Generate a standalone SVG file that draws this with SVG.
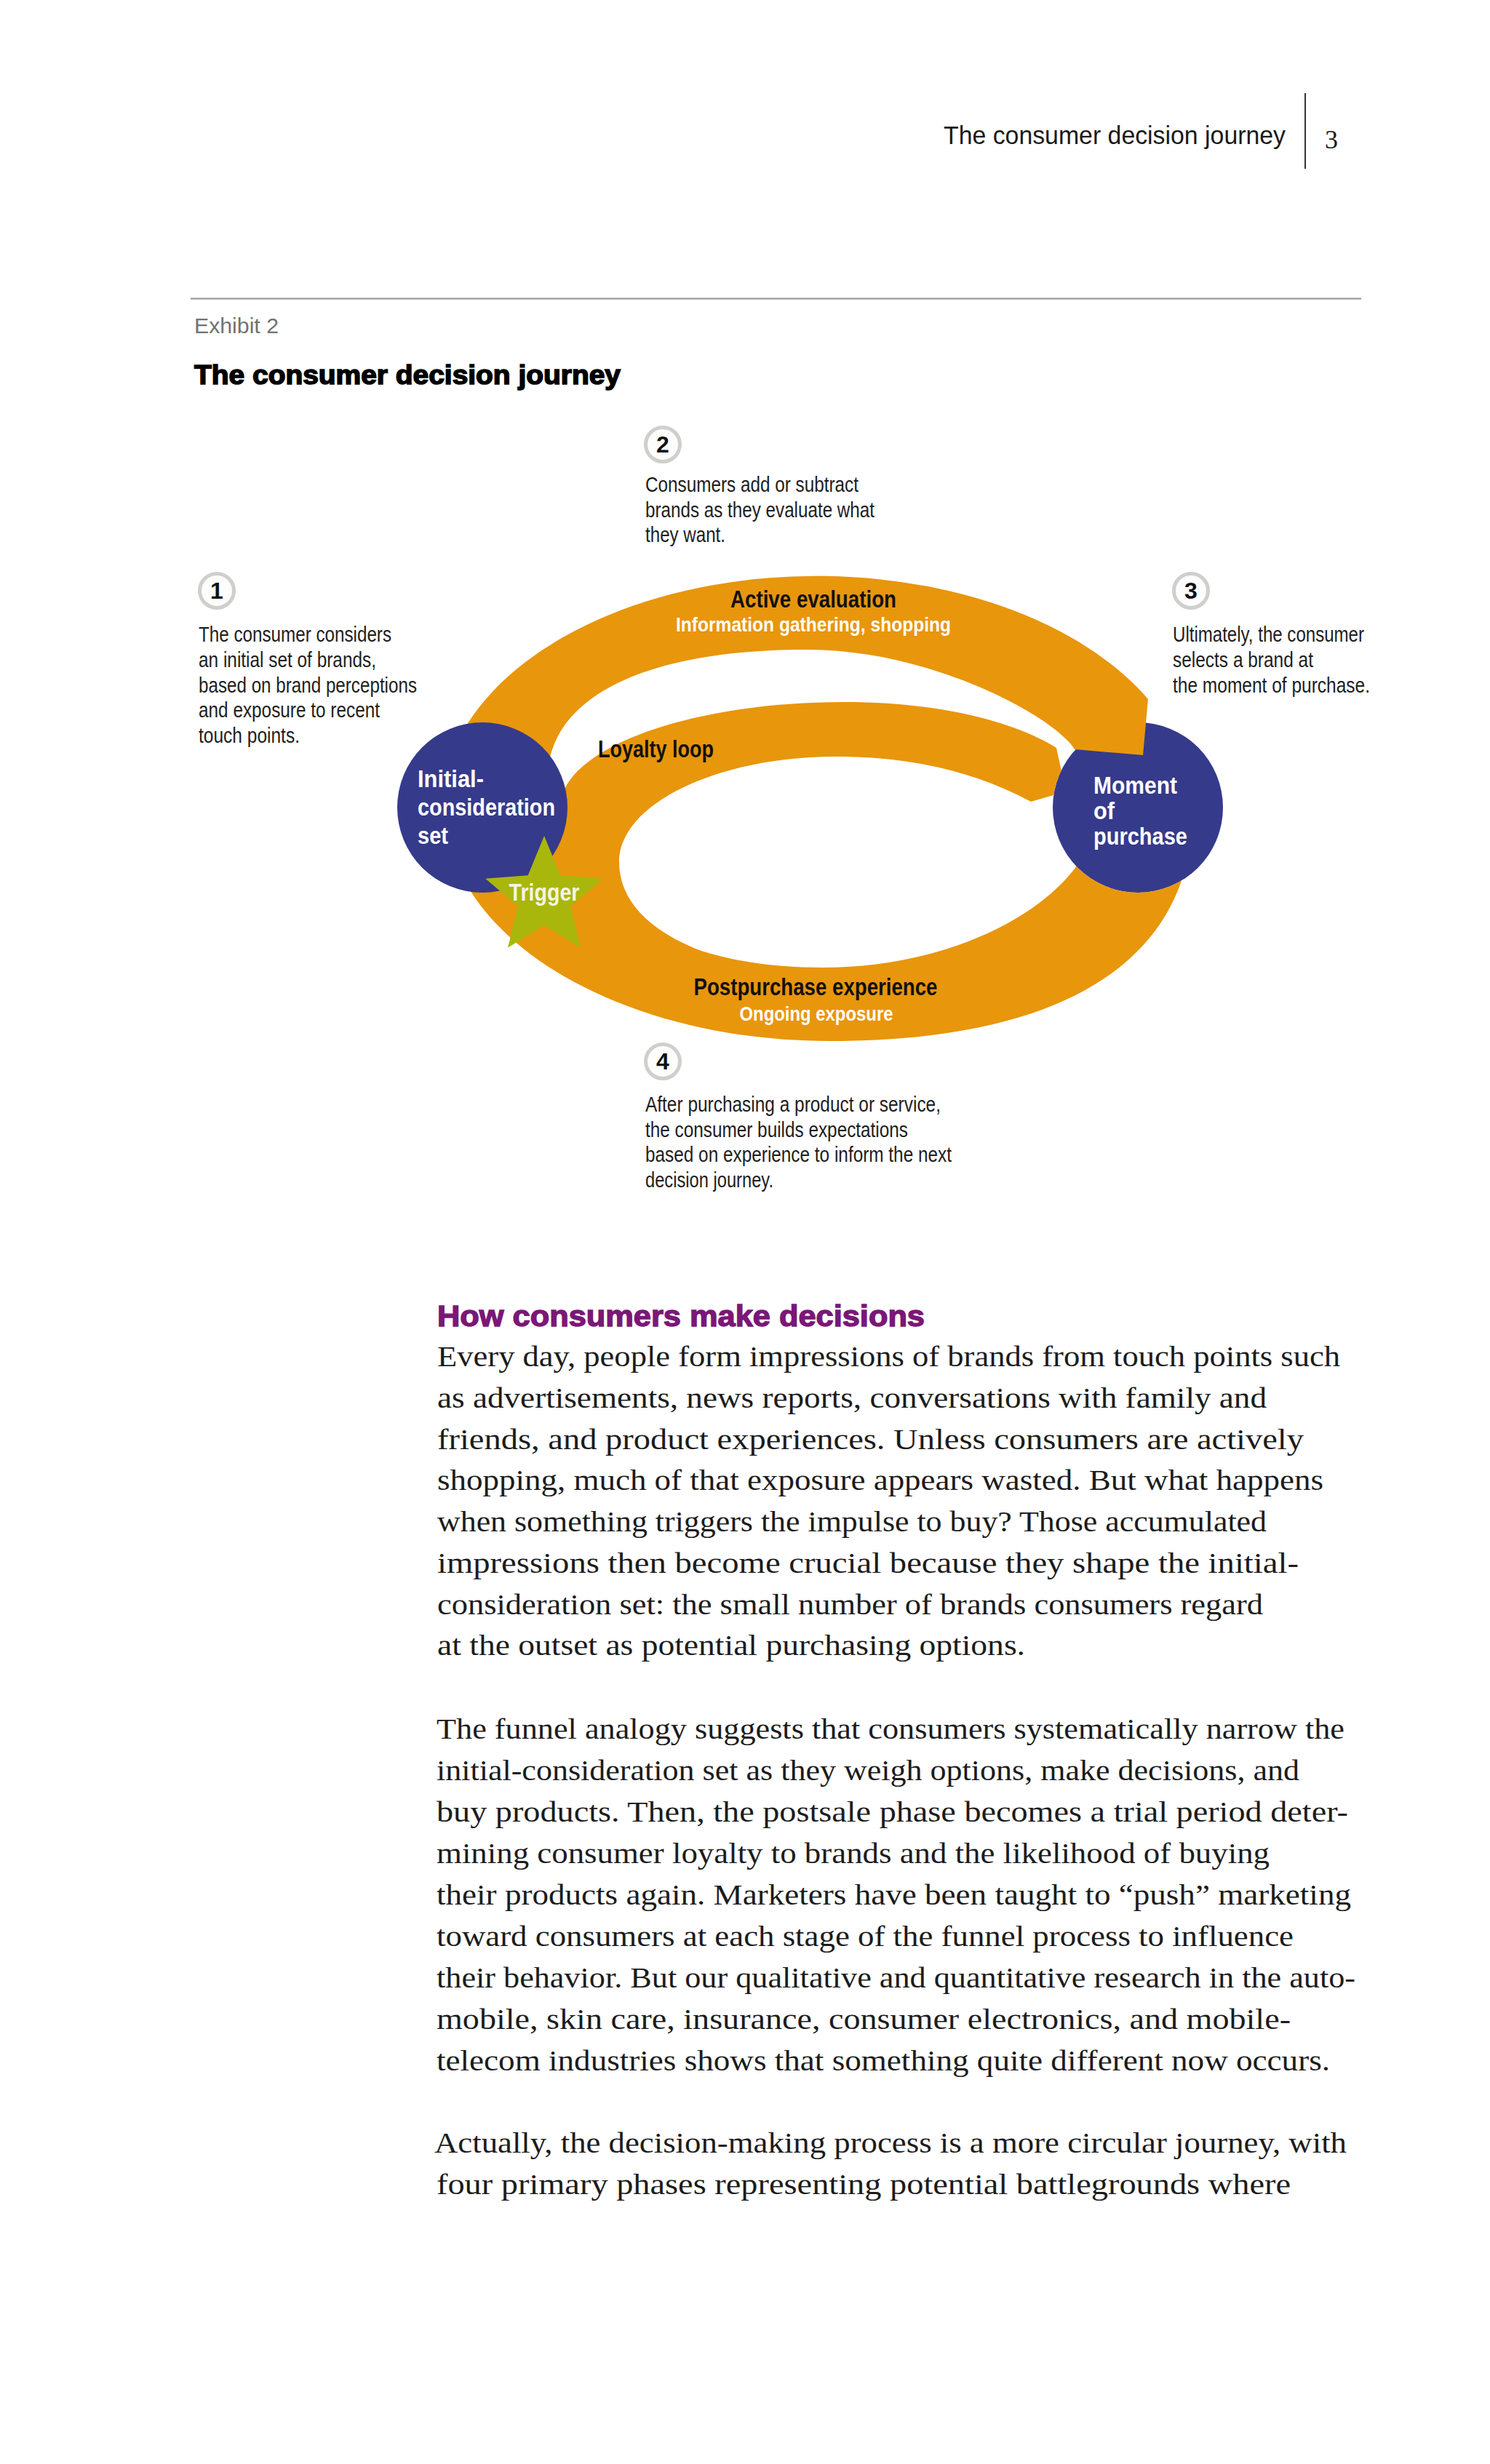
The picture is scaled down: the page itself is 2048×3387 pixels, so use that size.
<svg xmlns="http://www.w3.org/2000/svg" width="2048" height="3387" viewBox="0 0 2048 3387">
<defs>
<style>
.hdr{font-family:"Liberation Sans",Arial,sans-serif;fill:#1a1a1a}
.ann{font-family:"Liberation Sans Narrow","Liberation Sans",Arial,sans-serif;font-size:29px;fill:#1e1e1e}
.num{font-family:"Liberation Sans Narrow","Liberation Sans",Arial,sans-serif;font-size:32px;font-weight:bold;fill:#111;text-anchor:middle}
.ring{fill:#fdfdfd;stroke:#cfcfcb;stroke-width:5}
.lbl{font-family:"Liberation Sans Narrow","Liberation Sans",Arial,sans-serif;font-weight:bold;font-size:34px;fill:#111}
.sub{font-family:"Liberation Sans Narrow","Liberation Sans",Arial,sans-serif;font-weight:bold;font-size:28px;fill:#fff}
.wht{fill:#fff}
.band{fill:#e8960c}
.node{fill:#363a8a}
.body{font-family:"Liberation Serif","Times New Roman",serif;font-size:40px;fill:#1c1c1c}
</style>
<clipPath id="outsideMoP">
<path clip-rule="evenodd" d="M0,0H2048V3387H0Z M1447,1110 a117,117 0 1,0 234,0 a117,117 0 1,0 -234,0Z"/>
</clipPath>
</defs>
<rect width="2048" height="3387" fill="#ffffff"/>

<g id="page-header">
<text class="hdr" x="1297" y="198" font-size="35" textLength="470" lengthAdjust="spacingAndGlyphs">The consumer decision journey</text>
<line x1="1794" y1="128" x2="1794" y2="232" stroke="#333" stroke-width="2"/>
<text x="1830" y="204" font-family="'Liberation Serif','Times New Roman',serif" font-size="36" fill="#1a1a1a" text-anchor="middle">3</text>
<line x1="262" y1="410.5" x2="1871" y2="410.5" stroke="#a3a3a3" stroke-width="2.5"/>
<text class="hdr" x="267" y="458" font-size="29" style="fill:#727272" textLength="116" lengthAdjust="spacingAndGlyphs">Exhibit 2</text>
<text class="hdr" x="267" y="528" font-size="37" font-weight="bold" style="fill:#000" stroke="#000" stroke-width="1.6" textLength="586" lengthAdjust="spacingAndGlyphs">The consumer decision journey</text>
</g>

<g id="node-moment-of-purchase">
<circle class="node" cx="1564" cy="1110" r="117"/>
</g>

<g id="connectors">
<path id="postpurchase-loyalty-band" class="band" clip-path="url(#outsideMoP)" d="M1640,1110 C1640,1319 1465,1431 1140,1431 C848,1431 612,1287 612,1110 L770,1110 C770,1030 945,965 1160,965 C1300,965 1400,995 1452,1028 L1465,1088 L1417,1102 C1340,1060 1250,1040 1150,1040 C985,1040 851,1105 851,1185 C851,1245 905,1285 964,1307 C1020,1325 1080,1330 1130,1330 C1300,1330 1430,1260 1480,1190 L1540,1130 Z"/>
<path id="active-evaluation-band" class="band" d="M620,1040 A516,320 0 0 1 1578,961 L1571,1038 L1477,1030 C1450,985 1280,893 1110,893 C900,893 775,950 755,1045 L700,1070 Z"/>
<text class="lbl" x="1118" y="835" text-anchor="middle" textLength="228" lengthAdjust="spacingAndGlyphs">Active evaluation</text>
<text class="sub" x="1118" y="868" text-anchor="middle" textLength="378" lengthAdjust="spacingAndGlyphs">Information gathering, shopping</text>
<text class="lbl" x="822" y="1041" textLength="159" lengthAdjust="spacingAndGlyphs">Loyalty loop</text>
<text class="lbl" x="1121" y="1368" text-anchor="middle" textLength="335" lengthAdjust="spacingAndGlyphs">Postpurchase experience</text>
<text class="sub" x="1122" y="1403" text-anchor="middle" textLength="211" lengthAdjust="spacingAndGlyphs">Ongoing exposure</text>
</g>

<g id="node-initial-consideration-set">
<circle class="node" cx="663" cy="1110" r="117"/>
<text class="lbl wht" x="574" y="1082" style="fill:#fff" textLength="91" lengthAdjust="spacingAndGlyphs">Initial-</text>
<text class="lbl wht" x="574" y="1121" style="fill:#fff" textLength="189" lengthAdjust="spacingAndGlyphs">consideration</text>
<text class="lbl wht" x="574" y="1160" style="fill:#fff" textLength="42" lengthAdjust="spacingAndGlyphs">set</text>
</g>

<g id="node-moment-label">
<text class="lbl" x="1503" y="1091" style="fill:#fff" textLength="115" lengthAdjust="spacingAndGlyphs">Moment</text>
<text class="lbl" x="1503" y="1126" style="fill:#fff" textLength="29" lengthAdjust="spacingAndGlyphs">of</text>
<text class="lbl" x="1503" y="1161" style="fill:#fff" textLength="129" lengthAdjust="spacingAndGlyphs">purchase</text>
</g>

<g id="node-trigger">
<polygon fill="#a9b70d" points="748,1149 770.3,1203.3 828.8,1207.7 784.1,1245.7 798,1302.8 748,1272 698,1302.8 711.9,1245.7 667.2,1207.7 725.7,1203.3"/>
<text class="lbl" x="748" y="1238" text-anchor="middle" style="fill:#f4f4e4" textLength="97" lengthAdjust="spacingAndGlyphs">Trigger</text>
</g>

<g id="note-1">
<circle class="ring" cx="298" cy="812" r="23.5"/>
<text class="num" x="298" y="823">1</text>
<text class="ann" x="273" y="882" textLength="265" lengthAdjust="spacingAndGlyphs">The consumer considers</text>
<text class="ann" x="273" y="917" textLength="244" lengthAdjust="spacingAndGlyphs">an initial set of brands,</text>
<text class="ann" x="273" y="952" textLength="300" lengthAdjust="spacingAndGlyphs">based on brand perceptions</text>
<text class="ann" x="273" y="986" textLength="249" lengthAdjust="spacingAndGlyphs">and exposure to recent</text>
<text class="ann" x="273" y="1021" textLength="139" lengthAdjust="spacingAndGlyphs">touch points.</text>
</g>

<g id="note-2">
<circle class="ring" cx="911" cy="611" r="23.5"/>
<text class="num" x="911" y="622">2</text>
<text class="ann" x="887" y="676" textLength="293" lengthAdjust="spacingAndGlyphs">Consumers add or subtract</text>
<text class="ann" x="887" y="711" textLength="315" lengthAdjust="spacingAndGlyphs">brands as they evaluate what</text>
<text class="ann" x="887" y="745" textLength="110" lengthAdjust="spacingAndGlyphs">they want.</text>
</g>

<g id="note-3">
<circle class="ring" cx="1637" cy="812" r="23.5"/>
<text class="num" x="1637" y="823">3</text>
<text class="ann" x="1612" y="882" textLength="263" lengthAdjust="spacingAndGlyphs">Ultimately, the consumer</text>
<text class="ann" x="1612" y="917" textLength="193" lengthAdjust="spacingAndGlyphs">selects a brand at</text>
<text class="ann" x="1612" y="952" textLength="271" lengthAdjust="spacingAndGlyphs">the moment of purchase.</text>
</g>

<g id="note-4">
<circle class="ring" cx="911" cy="1459" r="23.5"/>
<text class="num" x="911" y="1470">4</text>
<text class="ann" x="887" y="1528" textLength="406" lengthAdjust="spacingAndGlyphs">After purchasing a product or service,</text>
<text class="ann" x="887" y="1563" textLength="361" lengthAdjust="spacingAndGlyphs">the consumer builds expectations</text>
<text class="ann" x="887" y="1597" textLength="421" lengthAdjust="spacingAndGlyphs">based on experience to inform the next</text>
<text class="ann" x="887" y="1632" textLength="176" lengthAdjust="spacingAndGlyphs">decision journey.</text>
</g>

<g id="body-text">
<text x="601" y="1823" font-family="'Liberation Sans',Arial,sans-serif" font-weight="bold" font-size="40" fill="#7b1776" stroke="#7b1776" stroke-width="1.4" textLength="670" lengthAdjust="spacingAndGlyphs">How consumers make decisions</text>
<text class="body" x="601" y="1878" textLength="1241" lengthAdjust="spacingAndGlyphs">Every day, people form impressions of brands from touch points such</text>
<text class="body" x="601" y="1935" textLength="1140" lengthAdjust="spacingAndGlyphs">as advertisements, news reports, conversations with family and</text>
<text class="body" x="601" y="1992" textLength="1191" lengthAdjust="spacingAndGlyphs">friends, and product experiences. Unless consumers are actively</text>
<text class="body" x="601" y="2048" textLength="1218" lengthAdjust="spacingAndGlyphs">shopping, much of that exposure appears wasted. But what happens</text>
<text class="body" x="601" y="2105" textLength="1140" lengthAdjust="spacingAndGlyphs">when something triggers the impulse to buy? Those accumulated</text>
<text class="body" x="601" y="2162" textLength="1184" lengthAdjust="spacingAndGlyphs">impressions then become crucial because they shape the initial-</text>
<text class="body" x="601" y="2219" textLength="1135" lengthAdjust="spacingAndGlyphs">consideration set: the small number of brands consumers regard</text>
<text class="body" x="601" y="2275" textLength="808" lengthAdjust="spacingAndGlyphs">at the outset as potential purchasing options.</text>

<text class="body" x="600" y="2390" textLength="1248" lengthAdjust="spacingAndGlyphs">The funnel analogy suggests that consumers systematically narrow the</text>
<text class="body" x="600" y="2447" textLength="1186" lengthAdjust="spacingAndGlyphs">initial-consideration set as they weigh options, make decisions, and</text>
<text class="body" x="600" y="2504" textLength="1253" lengthAdjust="spacingAndGlyphs">buy products. Then, the postsale phase becomes a trial period deter-</text>
<text class="body" x="600" y="2561" textLength="1145" lengthAdjust="spacingAndGlyphs">mining consumer loyalty to brands and the likelihood of buying</text>
<text class="body" x="600" y="2618" textLength="1257" lengthAdjust="spacingAndGlyphs">their products again. Marketers have been taught to “push” marketing</text>
<text class="body" x="600" y="2675" textLength="1178" lengthAdjust="spacingAndGlyphs">toward consumers at each stage of the funnel process to influence</text>
<text class="body" x="600" y="2732" textLength="1263" lengthAdjust="spacingAndGlyphs">their behavior. But our qualitative and quantitative research in the auto-</text>
<text class="body" x="600" y="2789" textLength="1174" lengthAdjust="spacingAndGlyphs">mobile, skin care, insurance, consumer electronics, and mobile-</text>
<text class="body" x="600" y="2846" textLength="1228" lengthAdjust="spacingAndGlyphs">telecom industries shows that something quite different now occurs.</text>

<text class="body" x="597" y="2959" textLength="1254" lengthAdjust="spacingAndGlyphs">Actually, the decision-making process is a more circular journey, with</text>
<text class="body" x="600" y="3016" textLength="1174" lengthAdjust="spacingAndGlyphs">four primary phases representing potential battlegrounds where</text>
</g>
</svg>
